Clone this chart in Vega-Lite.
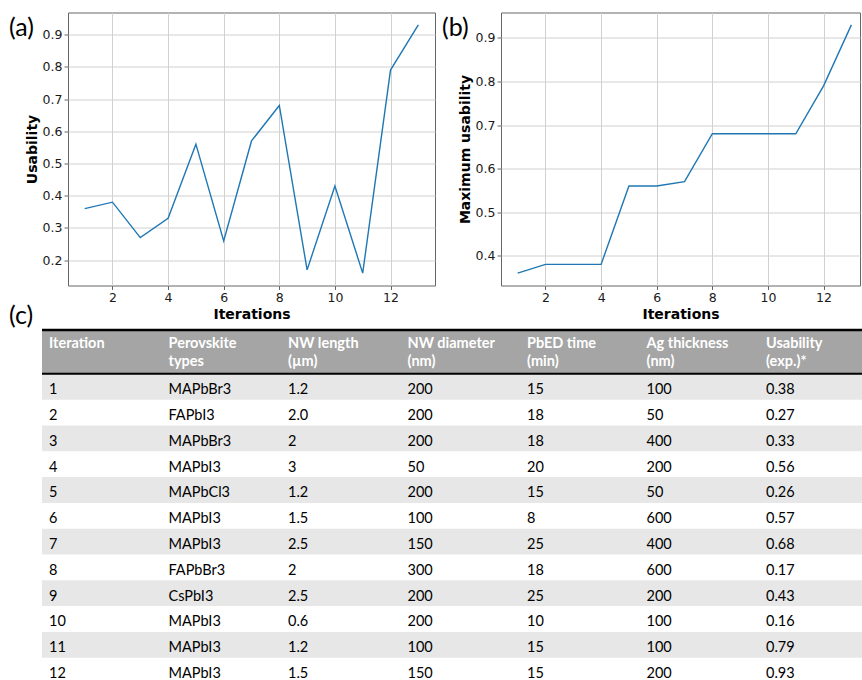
{
  "$schema": "https://vega.github.io/schema/vega-lite/v6.json",
  "background": "white",
  "padding": {"left": 8, "top": 11.5, "right": 0, "bottom": 0},
  "config": {
    "view": {"stroke": "#666666", "strokeWidth": 1},
    "axis": {
      "labelFont": "DejaVu Sans",
      "labelFontSize": 12.5,
      "labelColor": "#1a1a1a",
      "titleFont": "DejaVu Sans",
      "titleFontSize": 14,
      "titleFontWeight": "bold",
      "titleColor": "#000000",
      "grid": true,
      "gridColor": "#d0d0d0",
      "gridWidth": 1,
      "domain": false,
      "tickColor": "#666666",
      "tickSize": 4,
      "tickWidth": 1,
      "labelPadding": 2,
      "titlePadding": 3
    },
    "title": {"font": "Lato", "fontSize": 25, "fontWeight": "normal", "color": "#000000", "anchor": "start", "frame": "group"}
  },
  "datasets": {
    "runs": [
      {"iteration": 1, "usability": 0.36, "best": 0.36},
      {"iteration": 2, "usability": 0.38, "best": 0.38},
      {"iteration": 3, "usability": 0.27, "best": 0.38},
      {"iteration": 4, "usability": 0.33, "best": 0.38},
      {"iteration": 5, "usability": 0.56, "best": 0.56},
      {"iteration": 6, "usability": 0.26, "best": 0.56},
      {"iteration": 7, "usability": 0.57, "best": 0.57},
      {"iteration": 8, "usability": 0.68, "best": 0.68},
      {"iteration": 9, "usability": 0.17, "best": 0.68},
      {"iteration": 10, "usability": 0.43, "best": 0.68},
      {"iteration": 11, "usability": 0.16, "best": 0.68},
      {"iteration": 12, "usability": 0.79, "best": 0.79},
      {"iteration": 13, "usability": 0.93, "best": 0.93}
    ],
    "table": [
      {"iteration": 1, "perovskite": "MAPbBr3", "length": "1.2", "diameter": "200", "time": "15", "thickness": "100", "usability": "0.38"},
      {"iteration": 2, "perovskite": "FAPbI3", "length": "2.0", "diameter": "200", "time": "18", "thickness": "50", "usability": "0.27"},
      {"iteration": 3, "perovskite": "MAPbBr3", "length": "2", "diameter": "200", "time": "18", "thickness": "400", "usability": "0.33"},
      {"iteration": 4, "perovskite": "MAPbI3", "length": "3", "diameter": "50", "time": "20", "thickness": "200", "usability": "0.56"},
      {"iteration": 5, "perovskite": "MAPbCl3", "length": "1.2", "diameter": "200", "time": "15", "thickness": "50", "usability": "0.26"},
      {"iteration": 6, "perovskite": "MAPbI3", "length": "1.5", "diameter": "100", "time": "8", "thickness": "600", "usability": "0.57"},
      {"iteration": 7, "perovskite": "MAPbI3", "length": "2.5", "diameter": "150", "time": "25", "thickness": "400", "usability": "0.68"},
      {"iteration": 8, "perovskite": "FAPbBr3", "length": "2", "diameter": "300", "time": "18", "thickness": "600", "usability": "0.17"},
      {"iteration": 9, "perovskite": "CsPbI3", "length": "2.5", "diameter": "200", "time": "25", "thickness": "200", "usability": "0.43"},
      {"iteration": 10, "perovskite": "MAPbI3", "length": "0.6", "diameter": "200", "time": "10", "thickness": "100", "usability": "0.16"},
      {"iteration": 11, "perovskite": "MAPbI3", "length": "1.2", "diameter": "100", "time": "15", "thickness": "100", "usability": "0.79"},
      {"iteration": 12, "perovskite": "MAPbI3", "length": "1.5", "diameter": "150", "time": "15", "thickness": "200", "usability": "0.93"}
    ],
    "columns": [
      {"key": "iteration", "label": "Iteration"},
      {"key": "perovskite", "label": "Perovskite|types"},
      {"key": "length", "label": "NW length|(µm)"},
      {"key": "diameter", "label": "NW diameter|(nm)"},
      {"key": "time", "label": "PbED time|(min)"},
      {"key": "thickness", "label": "Ag thickness|(nm)"},
      {"key": "usability", "label": "Usability|(exp.)*"}
    ]
  },
  "columns": 1,
  "align": "none",
  "bounds": "full",
  "spacing": -18,
  "concat": [
    {
      "bounds": "full",
      "spacing": 5,
      "hconcat": [
        {
          "width": 367,
          "height": 273,
          "title": {"text": "(a)", "dx": -59, "dy": 48, "offset": 0, "baseline": "alphabetic"},
          "data": {"name": "runs"},
          "mark": {"type": "line", "color": "#1f77b4", "strokeWidth": 1.4},
          "encoding": {
            "x": {
              "field": "iteration", "type": "quantitative",
              "scale": {"domain": [0.4, 13.6], "nice": false, "zero": false},
              "axis": {"values": [2, 4, 6, 8, 10, 12], "title": "Iterations"}
            },
            "y": {
              "field": "usability", "type": "quantitative",
              "scale": {"domain": [0.1215, 0.9685], "nice": false, "zero": false},
              "axis": {"values": [0.2, 0.3, 0.4, 0.5, 0.6, 0.7, 0.8, 0.9], "format": ".1f", "title": "Usability"}
            }
          }
        },
        {
          "width": 359,
          "height": 273,
          "title": {"text": "(b)", "dx": -59, "dy": 48, "offset": 0, "baseline": "alphabetic"},
          "data": {"name": "runs"},
          "mark": {"type": "line", "color": "#1f77b4", "strokeWidth": 1.4},
          "encoding": {
            "x": {
              "field": "iteration", "type": "quantitative",
              "scale": {"domain": [0.4, 13.31], "nice": false, "zero": false},
              "axis": {"values": [2, 4, 6, 8, 10, 12], "title": "Iterations"}
            },
            "y": {
              "field": "best", "type": "quantitative",
              "scale": {"domain": [0.3315, 0.9585], "nice": false, "zero": false},
              "axis": {"values": [0.4, 0.5, 0.6, 0.7, 0.8, 0.9], "format": ".1f", "title": "Maximum usability"}
            }
          }
        }
      ]
    },
    {
      "width": 795,
      "height": 352,
      "title": {"text": "(c)", "dx": -59, "dy": 21, "offset": 0, "baseline": "alphabetic"},
      "view": {"stroke": null},
      "resolve": {"scale": {"x": "independent"}},
      "layer": [
        {
          "data": {"name": "table"},
          "transform": [{"filter": "datum.iteration % 2 == 1"}],
          "mark": {"type": "rule", "color": "#e7e7e7", "strokeWidth": 25.8},
          "encoding": {
            "x": {"datum": 0, "type": "quantitative", "axis": null, "scale": {"domain": [0, 1], "range": [-26, 795], "nice": false, "zero": false}},
            "x2": {"datum": 1},
            "y": {"field": "iteration", "type": "quantitative", "axis": null,
                  "scale": {"domain": [-1.298, 12.345], "reverse": true, "nice": false, "zero": false}}
          }
        },
        {
          "data": {"values": [{}]},
          "mark": {"type": "rule", "color": "#a5a5a5", "strokeWidth": 42},
          "encoding": {
            "x": {"datum": 0, "type": "quantitative", "axis": null, "scale": {"domain": [0, 1], "range": [-26, 795], "nice": false, "zero": false}},
            "x2": {"datum": 1},
            "y": {"datum": -0.349, "type": "quantitative", "axis": null,
                  "scale": {"domain": [-1.298, 12.345], "reverse": true, "nice": false, "zero": false}}
          }
        },
        {
          "data": {"values": [{}]},
          "mark": {"type": "rule", "color": "#000000", "strokeWidth": 2.5},
          "encoding": {
            "x": {"datum": 0, "type": "quantitative", "axis": null, "scale": {"domain": [0, 1], "range": [-26, 795], "nice": false, "zero": false}},
            "x2": {"datum": 1},
            "y": {"datum": -1.201, "type": "quantitative", "axis": null,
                  "scale": {"domain": [-1.298, 12.345], "reverse": true, "nice": false, "zero": false}}
          }
        },
        {
          "data": {"values": [{}]},
          "mark": {"type": "rule", "color": "#000000", "strokeWidth": 2},
          "encoding": {
            "x": {"datum": 0, "type": "quantitative", "axis": null, "scale": {"domain": [0, 1], "range": [-26, 795], "nice": false, "zero": false}},
            "x2": {"datum": 1},
            "y": {"datum": 0.496, "type": "quantitative", "axis": null,
                  "scale": {"domain": [-1.298, 12.345], "reverse": true, "nice": false, "zero": false}}
          }
        },
        {
          "data": {"name": "columns"},
          "mark": {"type": "text", "font": "Lato", "fontSize": 14.5, "fontWeight": "bold", "color": "#ffffff",
                   "align": "left", "baseline": "top", "lineBreak": "|", "lineHeight": 17.5},
          "encoding": {
            "x": {"field": "key", "type": "nominal", "axis": null,
                  "scale": {"type": "point", "domain": ["iteration", "perovskite", "length", "diameter", "time", "thickness", "usability"], "range": [-19, 698], "padding": 0}},
            "y": {"datum": -0.922, "type": "quantitative", "axis": null,
                  "scale": {"domain": [-1.298, 12.345], "reverse": true, "nice": false, "zero": false}},
            "text": {"field": "label", "type": "nominal"}
          }
        },
        {
          "data": {"name": "table"},
          "transform": [
            {"fold": ["iteration", "perovskite", "length", "diameter", "time", "thickness", "usability"], "as": ["key", "value"]}
          ],
          "mark": {"type": "text", "font": "Lato", "fontSize": 14.5, "color": "#000000",
                   "align": "left", "baseline": "middle", "dy": 3.5},
          "encoding": {
            "x": {"field": "key", "type": "nominal", "axis": null,
                  "scale": {"type": "point", "domain": ["iteration", "perovskite", "length", "diameter", "time", "thickness", "usability"], "range": [-19, 698], "padding": 0}},
            "y": {"field": "iteration", "type": "quantitative", "axis": null,
                  "scale": {"domain": [-1.298, 12.345], "reverse": true, "nice": false, "zero": false}},
            "text": {"field": "value", "type": "nominal"}
          }
        }
      ]
    }
  ]
}
